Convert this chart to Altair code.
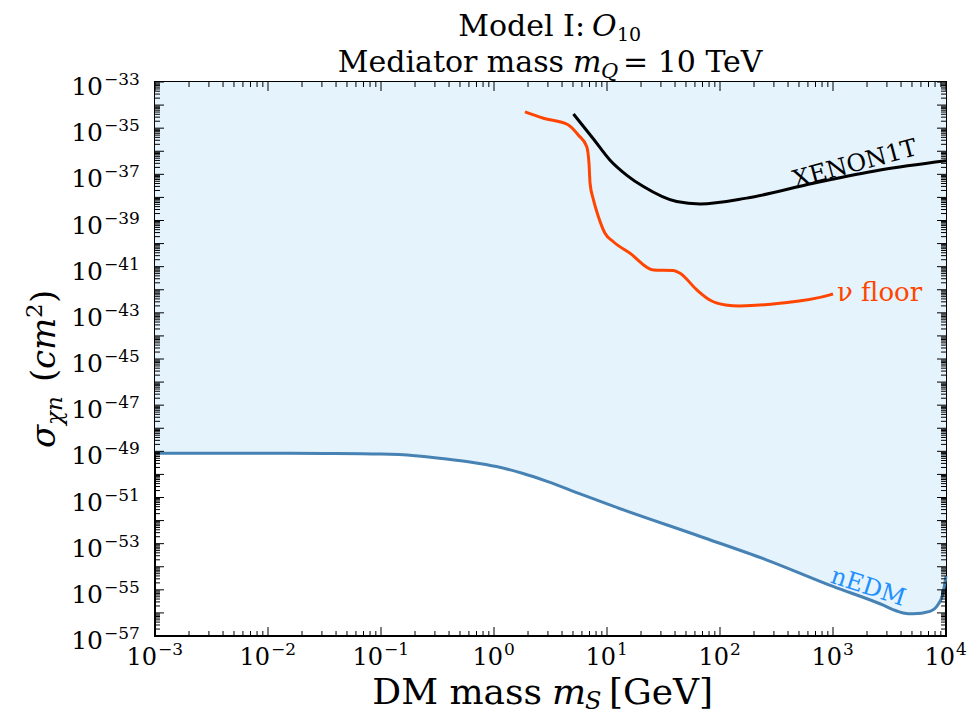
import altair as alt
import pandas as pd

# ---------------- data ----------------
# nEDM bound (mass in GeV, cross-section in cm^2)
nedm_mass = [1e-3, 3.16e-3, 1e-2, 3.16e-2, 0.1, 0.2, 0.38, 0.631, 1.05, 1.78, 2.95,
             5.62, 11.5, 66, 257, 1000, 2820, 3390, 4170, 5130, 7210, 8510, 9330,
             9770, 1e4]
nedm_sigma = [8.3e-50, 8.3e-50, 8.3e-50, 8.1e-50, 7.6e-50, 6.5e-50, 4.7e-50, 3.4e-50,
              2.2e-50, 1.12e-50, 5.0e-51, 1.51e-51, 4.1e-52, 2.1e-53, 2.0e-54, 1.4e-55,
              2.1e-56, 1.4e-56, 1.0e-56, 9.1e-57, 1.17e-56, 2.3e-56, 6.2e-56, 2.0e-55,
              4.0e-55]

# neutrino floor
nu_mass = [1.88, 2.74, 4.52, 5.56, 6.61, 6.93, 7.08, 7.59, 8.38, 9.6, 11.4, 16.0,
           25.7, 38.6, 44.3, 62.2, 81.3, 112, 150, 339, 940, 1000]
nu_sigma = [5.1e-35, 2.7e-35, 1.4e-35, 5.1e-36, 1.6e-36, 3.0e-37, 4.1e-38, 7.8e-39,
            1.5e-39, 2.8e-40, 1.2e-40, 3.8e-41, 7.2e-42, 6.8e-42, 5.2e-42, 1.0e-42,
            3.6e-43, 2.2e-43, 2.0e-43, 2.6e-43, 6.0e-43, 6.6e-43]

# XENON1T limit
xe_mass = [5.05, 7.59, 10.6, 14.9, 21.0, 41.4, 66.5, 172, 670, 2610, 1e4]
xe_sigma = [4.1e-35, 3.4e-36, 4.2e-37, 9.3e-38, 2.95e-38, 6.6e-39, 5.2e-39, 9.3e-39,
            4.1e-38, 1.55e-37, 3.9e-37]

# axis decades
x_exponents = list(range(-3, 5))
y_exponents = list(range(-57, -32))
y_label_exponents = list(range(-57, -32, 2))
y_top = 1e-33

# curve labels (position in data units)
xe_label = {"x": [1567], "y": [2.7e-37], "t": ["XENON1T"]}
nu_label = {"x": [1085], "y": [7.4e-43], "t": ["\u03bd floor"]}
nedm_label = {"x": [2040], "y": [1.26e-55], "t": ["nEDM"]}

# ---------------- styling ----------------
W, H = 791, 554
FONT = "DejaVu Serif"
BLUE_FILL = "#e5f3fc"
MINUS = "\u2212"

x_major = [10.0 ** e for e in x_exponents]
x_minor = [m * 10.0 ** e for e in x_exponents[:-1] for m in range(2, 10)]
y_major = [10.0 ** e for e in y_exponents]
y_minor = [m * 10.0 ** e for e in y_exponents[:-1] for m in range(2, 10)]

xs = alt.Scale(type="log", domain=[1e-3, 1e4], nice=False)
ys = alt.Scale(type="log", domain=[1e-57, 1e-33], nice=False)

nedm = pd.DataFrame({"m": nedm_mass, "s": nedm_sigma, "top": [y_top] * len(nedm_mass)})
nu = pd.DataFrame({"m": nu_mass, "s": nu_sigma})
xe = pd.DataFrame({"m": xe_mass, "s": xe_sigma})

area = alt.Chart(nedm).mark_area(color=BLUE_FILL, orient="vertical", interpolate="monotone").encode(
    x=alt.X("m:Q", scale=xs, axis=None),
    y=alt.Y("s:Q", scale=ys, axis=None, stack=None),
    y2="top:Q",
)

LW = 3
nedm_line = alt.Chart(nedm).mark_line(color="#4682b4", strokeWidth=LW, interpolate="monotone").encode(
    x="m:Q", y="s:Q")
nu_line = alt.Chart(nu).mark_line(color="#ff4500", strokeWidth=LW, interpolate="monotone").encode(
    x="m:Q", y="s:Q")
xe_line = alt.Chart(xe).mark_line(color="black", strokeWidth=LW, interpolate="monotone").encode(
    x="m:Q", y="s:Q")

xe_text = alt.Chart(pd.DataFrame(xe_label)).mark_text(
    font=FONT, fontSize=24, angle=345, color="black", align="center", baseline="middle"
).encode(x="x:Q", y="y:Q", text="t:N")
nu_text = alt.Chart(pd.DataFrame(nu_label)).mark_text(
    font=FONT, fontSize=26, color="#ff4500", align="left", baseline="middle"
).encode(x="x:Q", y="y:Q", text="t:N")
nedm_text = alt.Chart(pd.DataFrame(nedm_label)).mark_text(
    font=FONT, fontSize=24, angle=18, color="#1e90ff", align="center", baseline="middle"
).encode(x="x:Q", y="y:Q", text="t:N")


def tick_layer(vals, channel, length, side):
    df = pd.DataFrame({"v": vals})
    if channel == "x":
        if side == "bottom":
            enc = dict(x="v:Q", y=alt.value(H), y2=alt.value(H - length))
        else:
            enc = dict(x="v:Q", y=alt.value(0), y2=alt.value(length))
    else:
        if side == "left":
            enc = dict(y="v:Q", x=alt.value(0), x2=alt.value(length))
        else:
            enc = dict(y="v:Q", x=alt.value(W), x2=alt.value(W - length))
    return alt.Chart(df).mark_rule(color="black", strokeWidth=1).encode(**enc)


ticks = [
    tick_layer(x_major, "x", 9, "bottom"), tick_layer(x_major, "x", 9, "top"),
    tick_layer(x_minor, "x", 5, "bottom"), tick_layer(x_minor, "x", 5, "top"),
    tick_layer(y_major, "y", 9, "left"), tick_layer(y_major, "y", 9, "right"),
    tick_layer(y_minor, "y", 5, "left"), tick_layer(y_minor, "y", 5, "right"),
]


def exp_text(e):
    return (MINUS if e < 0 else "") + str(abs(e))


# tick labels "10" + superscript exponent
BASE_SIZE, EXP_SIZE = 24, 17
ylab = pd.DataFrame({"v": [10.0 ** e for e in y_label_exponents],
                     "b": ["10"] * len(y_label_exponents),
                     "e": [exp_text(e) for e in y_label_exponents]})
y_base = alt.Chart(ylab).mark_text(font=FONT, fontSize=BASE_SIZE + 1, align="right",
                                   baseline="alphabetic", dy=13, color="black").encode(
    y="v:Q", x=alt.value(-52), text="b:N")
y_exp = alt.Chart(ylab).mark_text(font=FONT, fontSize=EXP_SIZE, align="left",
                                  baseline="alphabetic", dy=3, color="black").encode(
    y="v:Q", x=alt.value(-51), text="e:N")

xneg = [e for e in x_exponents if e < 0]
xpos = [e for e in x_exponents if e >= 0]


def x_label_layers(exps, shift):
    df = pd.DataFrame({"v": [10.0 ** e for e in exps], "b": ["10"] * len(exps),
                       "e": [exp_text(e) for e in exps]})
    base = alt.Chart(df).mark_text(font=FONT, fontSize=BASE_SIZE, align="right",
                                   baseline="alphabetic", dx=shift, color="black").encode(
        x="v:Q", y=alt.value(H + 29), text="b:N")
    ex = alt.Chart(df).mark_text(font=FONT, fontSize=EXP_SIZE, align="left",
                                 baseline="alphabetic", dx=shift + 1, color="black").encode(
        x="v:Q", y=alt.value(H + 19), text="e:N")
    return [base, ex]


x_labels = x_label_layers(xneg, 2) + x_label_layers(xpos, 9)


# free text pieces (titles with sub/superscripts)
def piece(text, x, y, size=30, style="normal", align="left", angle=0):
    kw = dict(font=FONT, fontSize=size, fontStyle=style, color="black", align=align,
              baseline="alphabetic")
    if angle:
        kw["angle"] = angle
    return alt.Chart(pd.DataFrame({"t": [text]})).mark_text(**kw).encode(
        x=alt.value(x), y=alt.value(y), text="t:N")


title_layers = [
    piece("Model I:", 430, -46, align="right"),
    piece("O", 437, -46, style="italic"),
    piece("10", 462, -41, size=19),
    piece("Mediator mass", 409, -10, align="right"),
    piece("m", 418, -10, style="italic"),
    piece("Q", 446, -4, size=21, style="italic"),
    piece("= 10 TeV", 468, -10),
]

XT = 36
XB = H + 68
xtitle_layers = [
    piece("DM mass", 387, XB, size=XT, align="right"),
    piece("m", 397, XB, size=XT, style="italic"),
    piece("S", 430, XB + 5, size=24, style="italic"),
    piece("[GeV]", 454, XB, size=XT),
]

YX = -100
ytitle_layers = [
    piece("\u03c3", YX, 366, size=34, style="italic", angle=270),
    piece("\u03c7n", YX + 7, 343, size=23, style="italic", angle=270),
    piece("(", YX, 300, size=34, angle=270),
    piece("cm", YX, 287, size=34, style="italic", angle=270),
    piece("2", YX - 13, 236, size=23, angle=270),
    piece(")", YX, 221, size=34, angle=270),
]

chart = alt.layer(
    area, nedm_line, nu_line, xe_line, xe_text, nu_text, nedm_text, *ticks,
    y_base, y_exp, *x_labels, *title_layers, *xtitle_layers, *ytitle_layers
).properties(
    width=W, height=H,
    padding={"left": 155, "top": 82, "right": 25, "bottom": 80},
    autosize=alt.AutoSizeParams(type="none"),
    background="white",
).configure_view(stroke="black", strokeWidth=2)

chart.save("out.html", embed_options={"renderer": "svg", "actions": False})
